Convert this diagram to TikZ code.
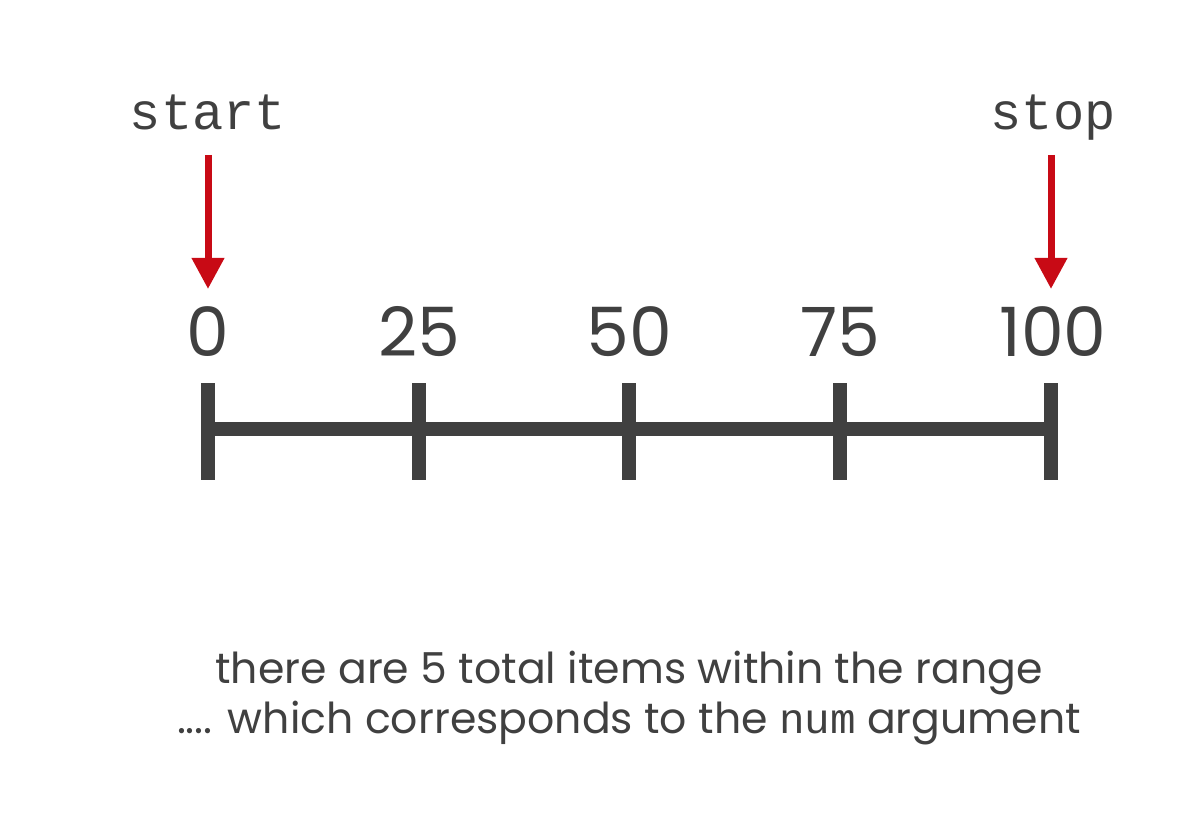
\documentclass[tikz,border=0pt]{standalone}
\usepackage{fontspec}
\setmainfont{Poppins}
\setmonofont{Liberation Mono}
\usepackage{tikz}
\usetikzlibrary{arrows.meta}
\definecolor{axisgray}{HTML}{404040}
\definecolor{pointred}{HTML}{C80A15}
\tikzset{
  value node/.style={anchor=base,inner sep=0pt,text=axisgray,font=\fontsize{34}{37}\selectfont},
  arg node/.style={anchor=base,inner sep=0pt,text=axisgray,font=\ttfamily\fontsize{26}{29}\selectfont},
  note node/.style={inner sep=0pt,text=axisgray,align=center,font=\fontsize{21.3}{25}\selectfont},
  pointer/.style={draw=pointred,line width=3.5pt,-{Triangle[width=15.5pt,length=15.5pt]}},
  axis/.style={draw=axisgray,line width=7pt}
}
\begin{document}
\begin{tikzpicture}[x=0.5pt,y=-0.5pt]
  \useasboundingbox (0,0) rectangle (1204,818);
  % numbers above the line
  \foreach \v/\x in {0/208,25/419,50/629,75/840,100/1053}
    \node [value node] (n\v) at (\x,356) {\v};
  % the line and its ticks
  \draw [axis] (207,429) coordinate (l) -- (1051,429) coordinate (r);
  \foreach \x in {208,419,629,840,1051}
    \draw [axis] (\x,383) -- (\x,480);
  % start and stop
  \node [arg node] (start) at (208,130) {start};
  \node [arg node] (stop) at (1053,130) {stop};
  \coordinate (s0) at (208,155);
  \coordinate (t0) at (208,289);
  \coordinate (s1) at (1051,155);
  \coordinate (t1) at (1051,289);
  \draw [pointer] (s0) -- (t0);
  \draw [pointer] (s1) -- (t1);
  % caption
  \node [note node,anchor=base] (note1) at (629,683) {there are 5 total items within the range};
  \node [note node,anchor=base] (note2) at (629,733) {.... which corresponds to the \texttt{num} argument};
\end{tikzpicture}
\end{document}
